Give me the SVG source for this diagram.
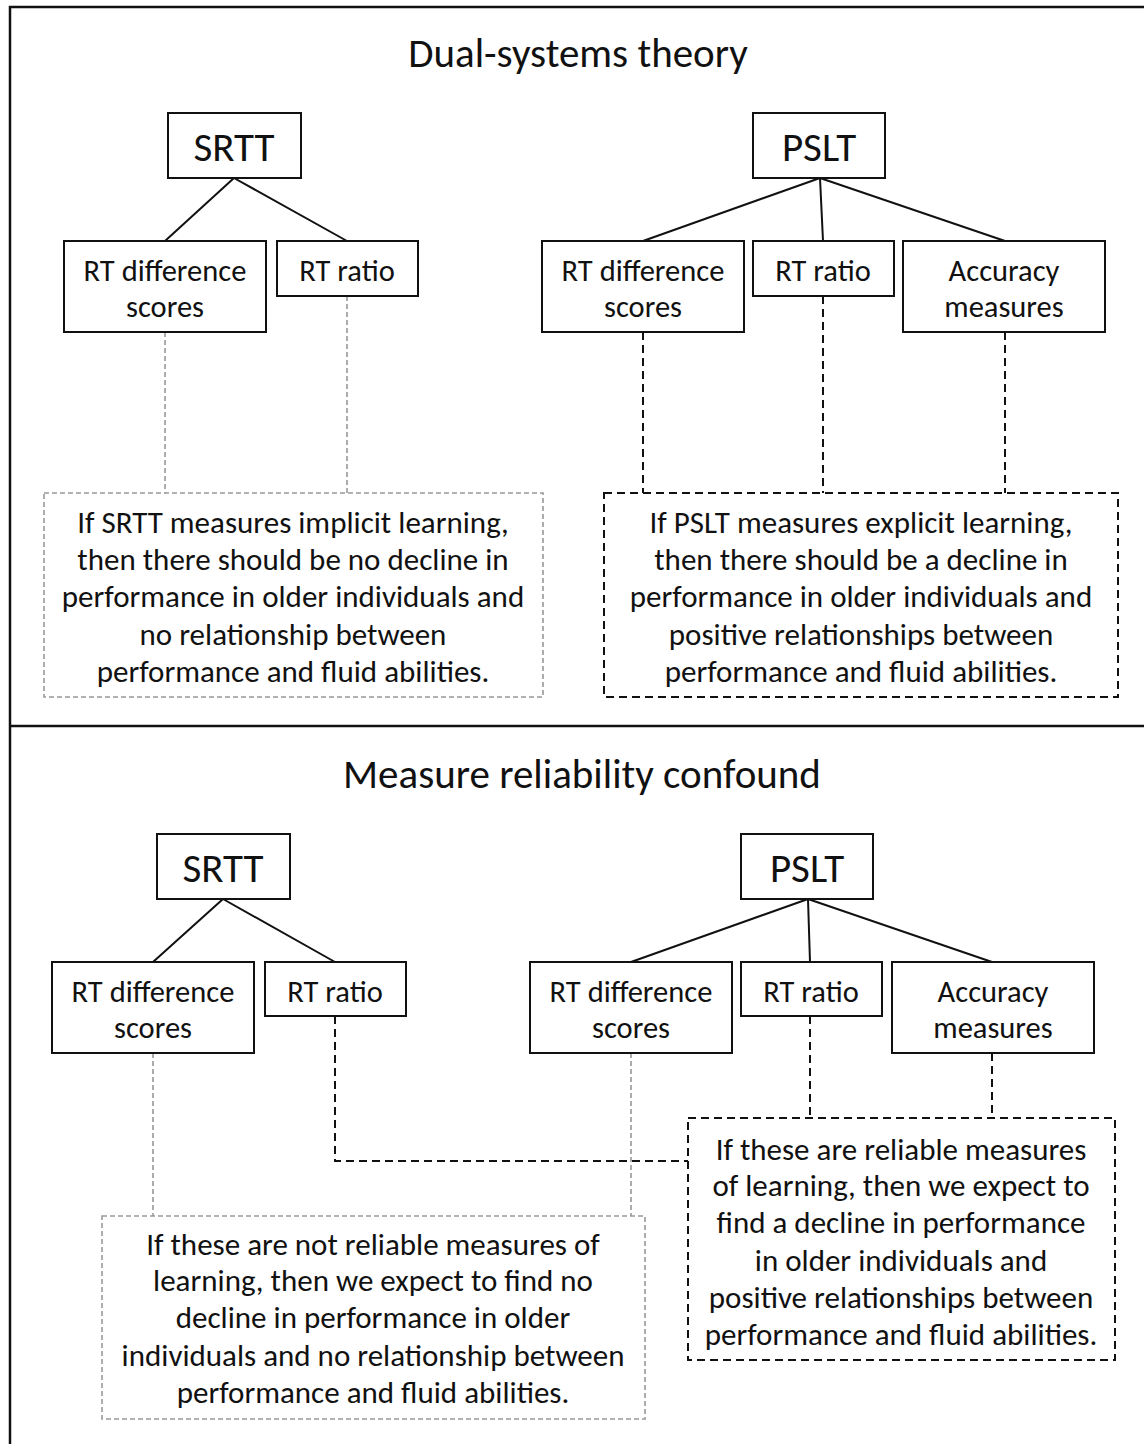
<svg xmlns="http://www.w3.org/2000/svg" width="1144" height="1444" viewBox="0 0 1144 1444">
<style>
text{font-family:Carlito,Lato,"Liberation Sans",sans-serif;fill:#111;text-anchor:middle}
.title{font-size:41px}
.big{font-size:41px}
.lab{font-size:30.5px}
.para{font-size:31px}
.box{fill:#fff;stroke:#111;stroke-width:2}
.solid{stroke:#111;stroke-width:2;fill:none}
.gdash{stroke:#999;stroke-width:1.6;stroke-dasharray:5 3;fill:none}
.bdash{stroke:#111;stroke-width:2;stroke-dasharray:8 5;fill:none}
.frame{stroke:#111;stroke-width:2.5;fill:none}
</style>
<rect width="1144" height="1444" fill="#fff"/>
<g id="frame">
<path class="frame" d="M1144 7 H10 V1444"/>
<line class="frame" x1="10" y1="726" x2="1144" y2="726"/>
</g>
<text class="title" x="578" y="67">Dual-systems theory</text>
<text class="title" x="582" y="788">Measure reliability confound</text>
<g id="connectors">
<path class="solid" d="M234 178 L165 241 M234 178 L347 241"/>
<path class="solid" d="M820 178 L643 241 M820 178 L823 241 M820 178 L1005 241"/>
<path class="gdash" d="M165 332 V493 M347 296 V493"/>
<path class="bdash" d="M643 332 V493 M823 296 V493 M1005 332 V493"/>
<path class="solid" d="M223 899 L153 962 M223 899 L335 962"/>
<path class="solid" d="M808 899 L631 962 M808 899 L810 962 M808 899 L992 962"/>
<path class="gdash" d="M153 1053 V1216 M631 1053 V1216"/>
<path class="bdash" d="M335 1016 V1161 H688 M810 1016 V1118 M992 1053 V1118"/>
</g>
<g id="top-srtt"><rect class="box" x="168" y="113" width="133" height="65"/><text class="big" x="234" y="161">SRTT</text></g>
<g id="top-pslt"><rect class="box" x="753" y="113" width="132" height="65"/><text class="big" x="819" y="161">PSLT</text></g>
<g id="top-srtt-diff"><rect class="box" x="64" y="241" width="202" height="91"/><text class="lab" x="165" y="281">RT difference</text><text class="lab" x="165" y="317">scores</text></g>
<g id="top-srtt-ratio"><rect class="box" x="277" y="241" width="141" height="55"/><text class="lab" x="347" y="281">RT ratio</text></g>
<g id="top-pslt-diff"><rect class="box" x="542" y="241" width="202" height="91"/><text class="lab" x="643" y="281">RT difference</text><text class="lab" x="643" y="317">scores</text></g>
<g id="top-pslt-ratio"><rect class="box" x="753" y="241" width="141" height="55"/><text class="lab" x="823" y="281">RT ratio</text></g>
<g id="top-pslt-acc"><rect class="box" x="903" y="241" width="202" height="91"/><text class="lab" x="1004" y="281">Accuracy</text><text class="lab" x="1004" y="317">measures</text></g>
<g id="top-srtt-hyp"><rect class="gdash" x="44" y="493" width="499" height="204"/>
<text class="para" x="293" y="533">If SRTT measures implicit learning,</text>
<text class="para" x="293" y="570">then there should be no decline in</text>
<text class="para" x="293" y="607">performance in older individuals and</text>
<text class="para" x="293" y="645">no relationship between</text>
<text class="para" x="293" y="682">performance and fluid abilities.</text></g>
<g id="top-pslt-hyp"><rect class="bdash" x="604" y="493" width="514" height="204"/>
<text class="para" x="861" y="533">If PSLT measures explicit learning,</text>
<text class="para" x="861" y="570">then there should be a decline in</text>
<text class="para" x="861" y="607">performance in older individuals and</text>
<text class="para" x="861" y="645">positive relationships between</text>
<text class="para" x="861" y="682">performance and fluid abilities.</text></g>
<g id="bot-srtt"><rect class="box" x="157" y="834" width="133" height="65"/><text class="big" x="223" y="882">SRTT</text></g>
<g id="bot-pslt"><rect class="box" x="741" y="834" width="132" height="65"/><text class="big" x="807" y="882">PSLT</text></g>
<g id="bot-srtt-diff"><rect class="box" x="52" y="962" width="202" height="91"/><text class="lab" x="153" y="1002">RT difference</text><text class="lab" x="153" y="1038">scores</text></g>
<g id="bot-srtt-ratio"><rect class="box" x="265" y="962" width="141" height="54"/><text class="lab" x="335" y="1002">RT ratio</text></g>
<g id="bot-pslt-diff"><rect class="box" x="530" y="962" width="202" height="91"/><text class="lab" x="631" y="1002">RT difference</text><text class="lab" x="631" y="1038">scores</text></g>
<g id="bot-pslt-ratio"><rect class="box" x="741" y="962" width="141" height="54"/><text class="lab" x="811" y="1002">RT ratio</text></g>
<g id="bot-pslt-acc"><rect class="box" x="892" y="962" width="202" height="91"/><text class="lab" x="993" y="1002">Accuracy</text><text class="lab" x="993" y="1038">measures</text></g>
<g id="bot-unreliable"><rect class="gdash" x="102" y="1216" width="543" height="203"/>
<text class="para" x="373" y="1255">If these are not reliable measures of</text>
<text class="para" x="373" y="1291">learning, then we expect to find no</text>
<text class="para" x="373" y="1328">decline in performance in older</text>
<text class="para" x="373" y="1366">individuals and no relationship between</text>
<text class="para" x="373" y="1403">performance and fluid abilities.</text></g>
<g id="bot-reliable"><rect class="bdash" x="688" y="1118" width="427" height="242"/>
<text class="para" x="901" y="1160">If these are reliable measures</text>
<text class="para" x="901" y="1196">of learning, then we expect to</text>
<text class="para" x="901" y="1233">find a decline in performance</text>
<text class="para" x="901" y="1271">in older individuals and</text>
<text class="para" x="901" y="1308">positive relationships between</text>
<text class="para" x="901" y="1345">performance and fluid abilities.</text></g>
</svg>
